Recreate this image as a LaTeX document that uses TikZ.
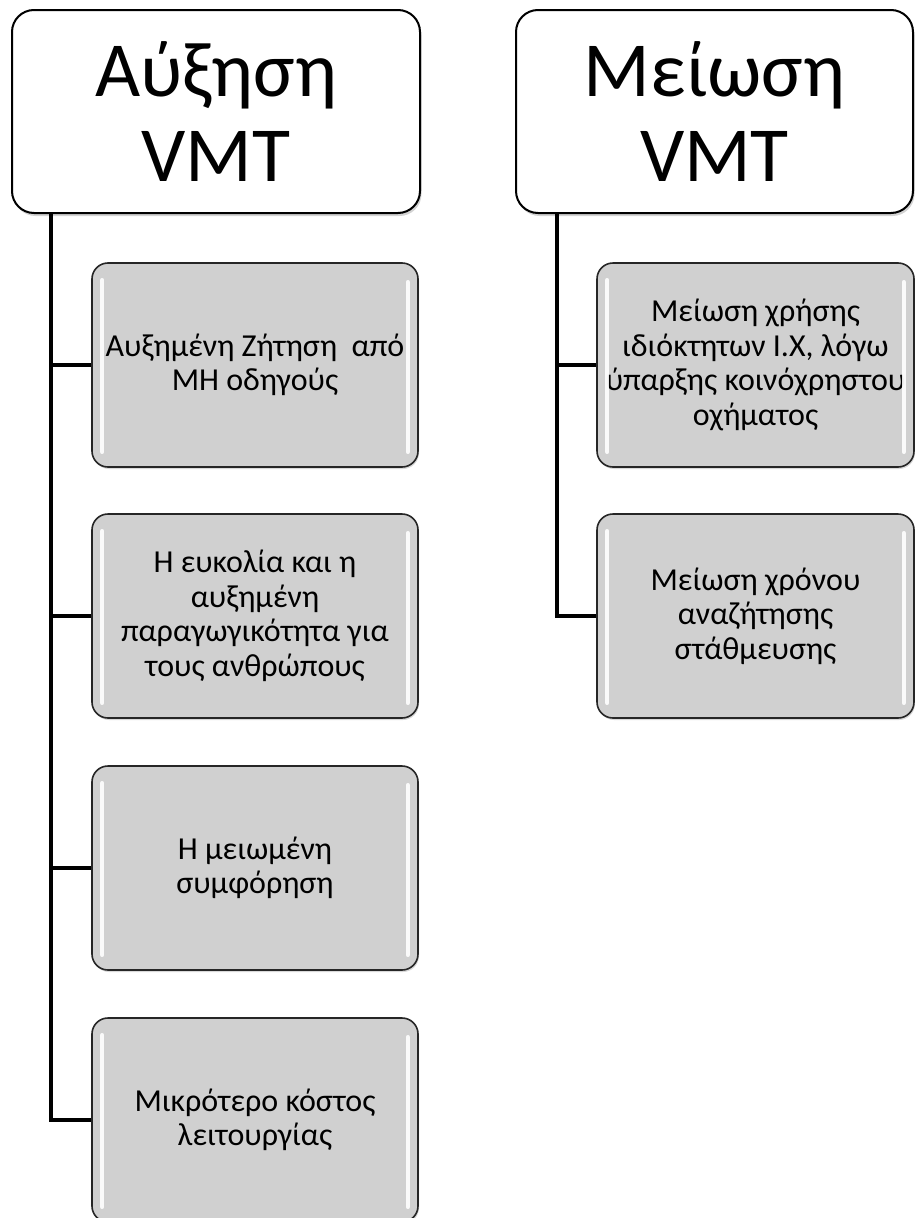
\documentclass[tikz,border=0pt]{standalone}
\usepackage{fontspec}
\setmainfont{Carlito}
\usetikzlibrary{shadows}

\tikzset{
  headbox/.style={draw=black, line width=2pt, fill=white, rounded corners=22pt,
    minimum height=203pt, align=center, inner sep=0pt,
    font=\fontsize{78}{85}\selectfont,
    drop shadow={shadow xshift=1.5pt, shadow yshift=-3pt, opacity=0.35, fill=gray}},
  itembox/.style={draw=black!85, line width=1.6pt, fill=gray!37, rounded corners=16pt,
    minimum height=204pt, align=center, inner sep=0pt,
    font=\fontsize{32}{34.5}\selectfont,
    drop shadow={shadow xshift=1pt, shadow yshift=-2pt, opacity=0.3, fill=gray}},
  gloss/.style={draw=white, line width=4.5pt, line cap=round, opacity=0.9},
  trunk/.style={draw=black, line width=4pt, line join=miter}
}

% white highlight strips along the inner left and right edges of a box
\newcommand{\glossbox}[1]{%
  \draw[gloss] ([xshift=11pt,yshift=-18pt]#1.north west) -- ([xshift=11pt,yshift=16pt]#1.south west);
  \draw[gloss] ([xshift=-11pt,yshift=-20pt]#1.north east) -- ([xshift=-11pt,yshift=16pt]#1.south east);
}

\begin{document}
\begin{tikzpicture}[x=1pt, y=-1pt]
\useasboundingbox (0,0) rectangle (915,1218);
\clip (0,0) rectangle (915,1218);

% left column
\node[headbox, minimum width=408pt] (h1) at (216,111.5) {Αύξηση\\VMT};
\node[itembox, minimum width=326pt] (a1) at (255,365) {Αυξημένη Ζήτηση~~από\\ΜΗ οδηγούς};
\node[itembox, minimum width=326pt] (a2) at (255,616) {Η ευκολία και η\\αυξημένη\\παραγωγικότητα για\\τους ανθρώπους};
\node[itembox, minimum width=326pt] (a3) at (255,868) {Η μειωμένη\\συμφόρηση};
\node[itembox, minimum width=326pt] (a4) at (255,1120) {Μικρότερο κόστος\\λειτουργίας};

% right column
\node[headbox, minimum width=397pt] (h2) at (714.5,111.5) {Μείωση\\VMT};
\node[itembox, minimum width=317pt] (b1) at (755.5,365) {Μείωση χρήσης\\ιδιόκτητων Ι.Χ, λόγω\\ύπαρξης κοινόχρηστου\\οχήματος};
\node[itembox, minimum width=317pt] (b2) at (755.5,616) {Μείωση χρόνου\\αναζήτησης\\στάθμευσης};

\foreach \n in {a1,a2,a3,a4,b1,b2} {\glossbox{\n}}

% connectors: one trunk per column, then a stub to each box
\coordinate (t1) at ([xshift=40pt]h1.south west);
\coordinate (t2) at ([xshift=42pt]h2.south west);
\draw[trunk] (t1) |- (a4.west);
\draw[trunk] (t2) |- (b2.west);
\foreach \n in {a1,a2,a3} {\draw[trunk] (t1 |- \n.west) -- (\n.west);}
\draw[trunk] (t2 |- b1.west) -- (b1.west);
\end{tikzpicture}
\end{document}
